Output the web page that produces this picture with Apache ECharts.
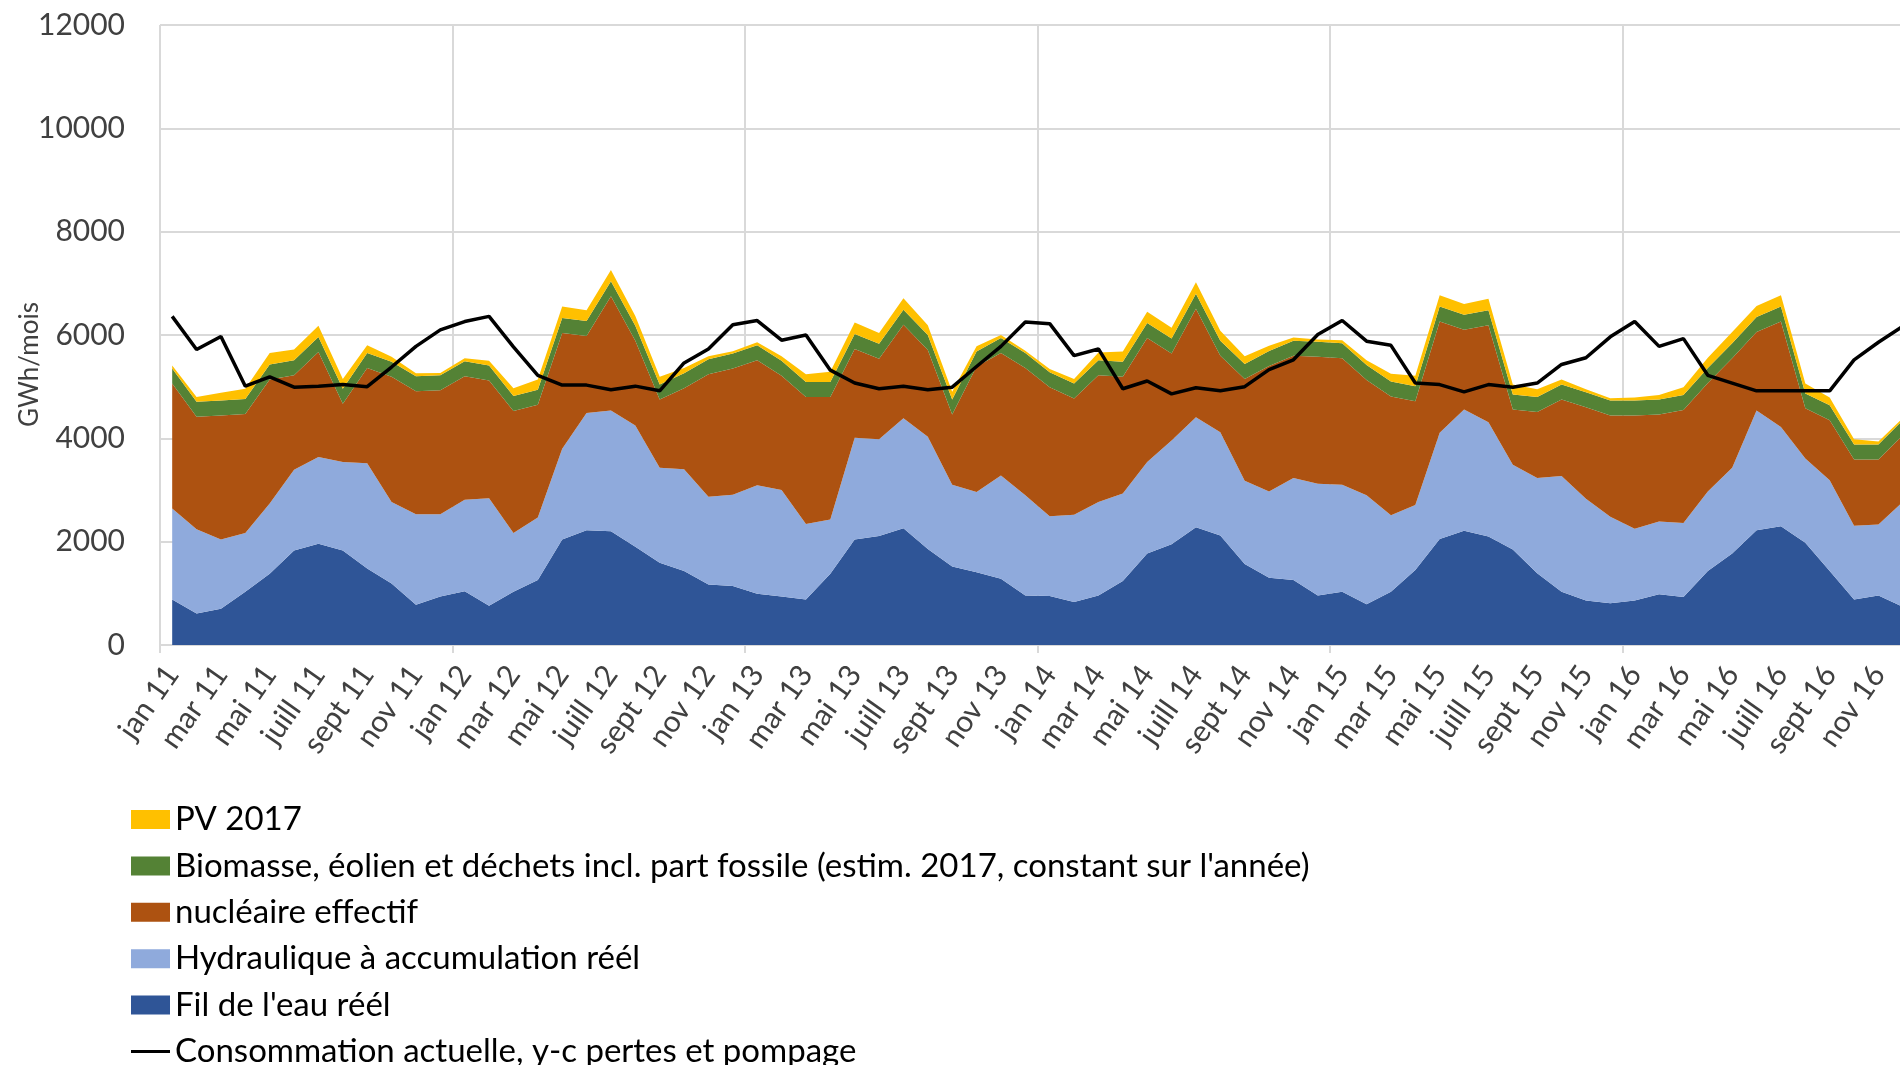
<!DOCTYPE html>
<html>
<head>
<meta charset="utf-8">
<title>Production et consommation</title>
<script src="https://cdn.jsdelivr.net/npm/echarts@6/dist/echarts.min.js"></script>
<style>
    html, body { margin: 0; padding: 0; background: #fff; }
    #main { width: 1900px; height: 1065px; }
</style>
</head>
<body>
<div id="main"></div>
<script>
    // mois affichés sur l'axe (un sur deux visible)
    var mois = ['jan', 'fév', 'mar', 'avr', 'mai', 'juin', 'juill', 'août', 'sept', 'oct', 'nov', 'déc'];
    var annees = ['11', '12', '13', '14', '15', '16'];

    var categories = [];
    for (var a = 0; a < annees.length; a++) {
        for (var m = 0; m < mois.length; m++) {
            categories.push(mois[m] + ' ' + annees[a]);
        }
    }

    var yTicks = [0, 2000, 4000, 6000, 8000, 10000, 12000];

    // GWh/mois
    var filEau = [880, 610, 700, 1030, 1380, 1830, 1960, 1830, 1480, 1190, 780, 940,
        1040, 760, 1030, 1260, 2040, 2220, 2200, 1900, 1590, 1430, 1170, 1140,
        990, 940, 880, 1380, 2040, 2110, 2260, 1860, 1520, 1410, 1280, 960,
        950, 830, 960, 1240, 1770, 1950, 2280, 2120, 1570, 1300, 1260, 960,
        1030, 790, 1030, 1450, 2050, 2210, 2100, 1850, 1390, 1030, 860, 810,
        860, 980, 930, 1430, 1770, 2220, 2300, 1980, 1430, 880, 960, 740];

    var hydroAccu = [1760, 1630, 1340, 1140, 1360, 1560, 1680, 1710, 2040, 1580, 1750, 1590,
        1770, 2080, 1140, 1210, 1760, 2270, 2340, 2350, 1840, 1970, 1700, 1770,
        2100, 2060, 1460, 1050, 1970, 1870, 2130, 2170, 1580, 1550, 2000, 1940,
        1540, 1690, 1810, 1690, 1770, 2010, 2130, 2000, 1610, 1670, 1970, 2160,
        2070, 2110, 1480, 1260, 2060, 2350, 2210, 1640, 1840, 2240, 1970, 1670,
        1390, 1410, 1430, 1540, 1660, 2320, 1920, 1630, 1760, 1430, 1370, 2030];

    var nucleaire = [2420, 2180, 2400, 2300, 2400, 1830, 2030, 1130, 1840, 2420, 2380, 2400,
        2390, 2280, 2360, 2180, 2240, 1490, 2210, 1640, 1320, 1570, 2370, 2440,
        2420, 2210, 2460, 2370, 1720, 1560, 1810, 1680, 1360, 2430, 2370, 2460,
        2500, 2250, 2450, 2260, 2400, 1680, 2100, 1480, 1970, 2430, 2370, 2460,
        2450, 2230, 2300, 2010, 2150, 1540, 1880, 1070, 1280, 1480, 1770, 1960,
        2190, 2070, 2190, 2100, 2120, 1520, 2040, 970, 1160, 1280, 1260, 1290];

    var biomasse = [290, 290, 290, 290, 290, 290, 290, 290, 290, 290, 290, 290,
        290, 290, 290, 290, 290, 290, 290, 290, 290, 290, 290, 290,
        290, 290, 290, 290, 290, 290, 290, 290, 290, 290, 290, 290,
        290, 290, 290, 290, 290, 290, 290, 290, 290, 290, 290, 290,
        290, 290, 290, 290, 290, 290, 290, 290, 290, 290, 290, 290,
        290, 290, 290, 290, 290, 290, 290, 290, 290, 290, 290, 290];

    var pv = [60, 90, 150, 200, 220, 210, 220, 190, 150, 100, 60, 45,
        60, 90, 150, 200, 220, 210, 220, 190, 150, 100, 60, 45,
        60, 90, 150, 200, 220, 210, 220, 190, 150, 100, 60, 45,
        60, 90, 150, 200, 220, 210, 220, 190, 150, 100, 60, 45,
        60, 90, 150, 200, 220, 210, 220, 190, 150, 100, 60, 45,
        60, 90, 150, 200, 220, 210, 220, 190, 150, 100, 60, 45];

    var consommation = [6360, 5720, 5970, 5010, 5190, 4990, 5010, 5040, 5000, 5380, 5780, 6100,
        6260, 6360, 5770, 5220, 5030, 5030, 4940, 5010, 4920, 5460, 5730, 6200,
        6280, 5900, 6000, 5320, 5070, 4960, 5010, 4940, 4990, 5390, 5780, 6250,
        6220, 5600, 5730, 4960, 5110, 4860, 4980, 4920, 5000, 5330, 5520, 6010,
        6280, 5880, 5800, 5070, 5040, 4900, 5040, 4990, 5070, 5430, 5560, 5965,
        6260, 5780, 5930, 5220, 5070, 4920, 4920, 4920, 4920, 5520, 5860, 6170];

    var noms = {
        pv: 'PV 2017',
        bio: "Biomasse, éolien et déchets incl. part fossile (estim. 2017, constant sur l'année)",
        nuc: 'nucléaire effectif',
        hydro: 'Hydraulique à accumulation réél',
        fil: "Fil de l'eau réél",
        conso: 'Consommation actuelle, y-c pertes et pompage'
    };

    var police = 'Lato, "Noto Sans", sans-serif';

    function aire(nom, couleur, valeurs) {
        return {
            name: nom,
            type: 'line',
            stack: 'prod',
            data: valeurs,
            color: couleur,
            symbol: 'none',
            lineStyle: { width: 0 },
            areaStyle: { color: couleur, opacity: 1 }
        };
    }

    var chart = echarts.init(document.getElementById('main'));
    var option = {
        animation: false,
        backgroundColor: '#fff',
        grid: {
            left: 160,
            top: 25,
            width: 1755,
            bottom: 420,
            containLabel: false,
            outerBoundsMode: 'none'
        },
        legend: {
            orient: 'vertical',
            left: 131,
            top: 803,
            height: 300,
            padding: 0,
            itemWidth: 39,
            itemHeight: 19,
            itemGap: 13.4,
            selectedMode: false,
            itemStyle: { borderWidth: 0 },
            textStyle: { fontFamily: police, fontSize: 33, lineHeight: 33, color: '#000' },
            data: [
                { name: noms.pv, icon: 'rect' },
                { name: noms.bio, icon: 'rect' },
                { name: noms.nuc, icon: 'rect' },
                { name: noms.hydro, icon: 'rect' },
                { name: noms.fil, icon: 'rect' },
                { name: noms.conso, icon: 'path://M0,0 L0,0 Z M0,8 L40,8 L40,11 L0,11 Z M40,19 L40,19 Z' }
            ]
        },
        xAxis: {
            type: 'category',
            data: categories,
            boundaryGap: true,
            axisLine: { lineStyle: { color: '#d9d9d9', width: 2 } },
            axisTick: { show: true, interval: 11, length: 8, lineStyle: { color: '#d9d9d9', width: 2 } },
            splitLine: { show: true, interval: 11, lineStyle: { color: '#d9d9d9', width: 2 } },
            axisLabel: {
                interval: 1,
                rotate: 55,
                margin: 24,
                fontFamily: police,
                fontSize: 30,
                color: '#404040'
            }
        },
        yAxis: {
            type: 'value',
            min: yTicks[0],
            max: yTicks[yTicks.length - 1],
            interval: yTicks[1] - yTicks[0],
            name: 'GWh/mois',
            nameLocation: 'middle',
            nameGap: 117,
            nameMoveOverlap: false,
            nameTextStyle: { fontFamily: police, fontSize: 26, color: '#404040', padding: [0, 59, 0, 0] },
            axisLine: { show: false },
            axisTick: { show: false },
            splitLine: { lineStyle: { color: '#d9d9d9', width: 2 } },
            axisLabel: {
                margin: 35,
                fontFamily: police,
                fontSize: 30,
                color: '#404040',
                formatter: function (v) { return String(v); }
            }
        },
        series: [
            aire(noms.fil, '#2f5597', filEau),
            aire(noms.hydro, '#8faadc', hydroAccu),
            aire(noms.nuc, '#ad5211', nucleaire),
            aire(noms.bio, '#548235', biomasse),
            aire(noms.pv, '#ffc000', pv),
            {
                name: noms.conso,
                type: 'line',
                data: consommation,
                color: '#000',
                symbol: 'none',
                z: 5,
                lineStyle: { color: '#000', width: 3.5 }
            }
        ]
    };
    chart.setOption(option);
</script>
</body>
</html>
